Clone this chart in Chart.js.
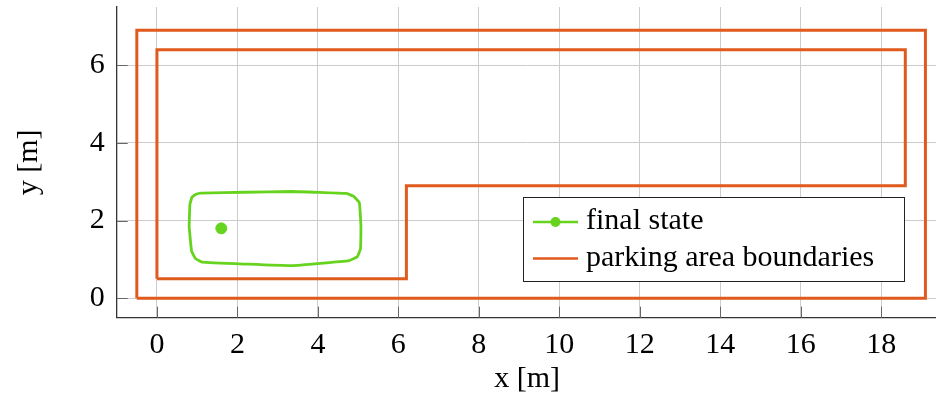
<!DOCTYPE html>
<html>
<head>
<meta charset="utf-8">
<script src="https://cdn.jsdelivr.net/npm/chart.js@4/dist/chart.umd.min.js"></script>
<style>
  html, body { margin: 0; padding: 0; background: #fff; overflow: hidden; }
  #c { display: block; width: 944px; height: 398px; }
</style>
</head>
<body>
<canvas id="c" width="944" height="398"></canvas>
<script>
// Tick positions on both axes
const xTicks = [0, 2, 4, 6, 8, 10, 12, 14, 16, 18];
const yTicks = [0, 2, 4, 6];

// Parking area: outer wall and inner wall (with the step of the parking slot)
const outerX = [-0.5, 19.1, 19.1, -0.5, -0.5];
const outerY = [0, 0, 6.9, 6.9, 0];
const innerX = [0, 6.2, 6.2, 18.6, 18.6, 0, 0];
const innerY = [0.5, 0.5, 2.9, 2.9, 6.4, 6.4, 0.5];

// Vehicle footprint at the final state
const carX = [0.80, 0.82, 0.87, 0.97, 1.10, 2.20, 3.35, 4.70, 4.88, 5.03, 5.07, 5.06, 4.98, 4.78, 3.35, 2.20, 1.12, 0.96, 0.86, 0.80];
const carY = [1.85, 2.42, 2.60, 2.68, 2.71, 2.73, 2.75, 2.70, 2.63, 2.46, 1.85, 1.28, 1.07, 0.97, 0.84, 0.88, 0.93, 1.02, 1.22, 1.85];

// Reference point of the final state
const finalX = [1.60];
const finalY = [1.80];

const labels = ['final state', 'parking area boundaries'];

const GREEN = '#66d41e';
const ORANGE = '#e05a1e';
const FONT = 'Liberation Serif';

const toPts = (xs, ys) => xs.map((x, i) => ({ x: x, y: ys[i] }));

// Draws the small inward tick marks and the framed legend
const decor = {
  id: 'decor',
  afterDatasetsDraw(chart) {
    const ctx = chart.ctx;
    const xs = chart.scales.x, ys = chart.scales.y;
    const area = chart.chartArea;
    ctx.save();
    ctx.strokeStyle = '#666';
    ctx.lineWidth = 1;
    xTicks.forEach(v => {
      const px = Math.round(xs.getPixelForValue(v)) + 0.5;
      ctx.beginPath();
      ctx.moveTo(px, area.bottom);
      ctx.lineTo(px, area.bottom - 11);
      ctx.stroke();
    });
    yTicks.forEach(v => {
      const py = Math.round(ys.getPixelForValue(v)) + 0.5;
      ctx.beginPath();
      ctx.moveTo(area.left, py);
      ctx.lineTo(area.left + 11, py);
      ctx.stroke();
    });

    // legend
    const bx = 523.5, by = 197.5, bw = 381, bh = 84;
    ctx.fillStyle = '#fff';
    ctx.fillRect(bx, by, bw, bh);
    ctx.strokeStyle = '#222';
    ctx.lineWidth = 1;
    ctx.strokeRect(bx, by, bw, bh);

    const rows = [
      { label: labels[0], color: GREEN, marker: true, lineY: 222, textY: 229 },
      { label: labels[1], color: ORANGE, marker: false, lineY: 258.5, textY: 266 }
    ];
    rows.forEach(r => {
      ctx.strokeStyle = r.color;
      ctx.lineWidth = 2.5;
      ctx.beginPath();
      ctx.moveTo(533, r.lineY);
      ctx.lineTo(578, r.lineY);
      ctx.stroke();
      if (r.marker) {
        ctx.fillStyle = r.color;
        ctx.beginPath();
        ctx.arc(555.5, r.lineY, 5, 0, Math.PI * 2);
        ctx.fill();
      }
      ctx.fillStyle = '#000';
      ctx.font = '30px "' + FONT + '"';
      ctx.textBaseline = 'alphabetic';
      ctx.textAlign = 'left';
      ctx.fillText(r.label, 586, r.textY);
    });
    ctx.restore();
  }
};

new Chart(document.getElementById('c'), {
  type: 'scatter',
  data: {
    datasets: [
      {
        label: labels[0],
        data: toPts(finalX, finalY),
        backgroundColor: GREEN,
        borderColor: GREEN,
        pointRadius: 5.5,
        showLine: false
      },
      {
        label: 'vehicle outline',
        data: toPts(carX, carY),
        borderColor: GREEN,
        borderWidth: 2.8,
        pointRadius: 0,
        showLine: true,
        tension: 0.1
      },
      {
        label: labels[1],
        data: toPts(innerX, innerY),
        borderColor: ORANGE,
        borderWidth: 3,
        pointRadius: 0,
        showLine: true
      },
      {
        label: labels[1] + ' (outer)',
        data: toPts(outerX, outerY),
        borderColor: ORANGE,
        borderWidth: 3,
        pointRadius: 0,
        showLine: true
      }
    ]
  },
  options: {
    responsive: false,
    maintainAspectRatio: false,
    devicePixelRatio: 1,
    animation: false,
    layout: { padding: { top: 7, right: 0, left: 0, bottom: 0 } },
    plugins: { legend: { display: false }, tooltip: { enabled: false } },
    scales: {
      x: {
        type: 'linear',
        min: -1,
        max: 19.4,
        afterBuildTicks: s => { s.ticks = xTicks.map(v => ({ value: v })); },
        afterFit: s => { s.height = 80.3; s.paddingLeft = 0; s.paddingRight = 0; },
        grid: { color: '#cccccc', lineWidth: 1, drawTicks: false },
        border: { display: true, color: '#333', width: 1.3 },
        ticks: {
          color: '#000',
          padding: 9,
          maxRotation: 0,
          font: { family: FONT, size: 30 },
          callback: v => String(v)
        },
        title: {
          display: true,
          text: 'x [m]',
          color: '#000',
          font: { family: FONT, size: 30 },
          padding: { top: 0, bottom: 1 }
        }
      },
      y: {
        type: 'linear',
        min: -0.5,
        max: 7.5,
        afterBuildTicks: s => { s.ticks = yTicks.map(v => ({ value: v })); },
        afterFit: s => { s.width = 116.7; s.paddingTop = 0; s.paddingBottom = 0; },
        grid: { color: '#cccccc', lineWidth: 1, drawTicks: false },
        border: { display: true, color: '#333', width: 1.3 },
        ticks: {
          color: '#000',
          padding: 12,
          font: { family: FONT, size: 30 },
          callback: v => String(v)
        },
        title: {
          display: true,
          text: 'y [m]',
          color: '#000',
          font: { family: FONT, size: 30 },
          padding: { top: 11, bottom: 0 }
        }
      }
    }
  },
  plugins: [decor]
});
</script>
</body>
</html>
